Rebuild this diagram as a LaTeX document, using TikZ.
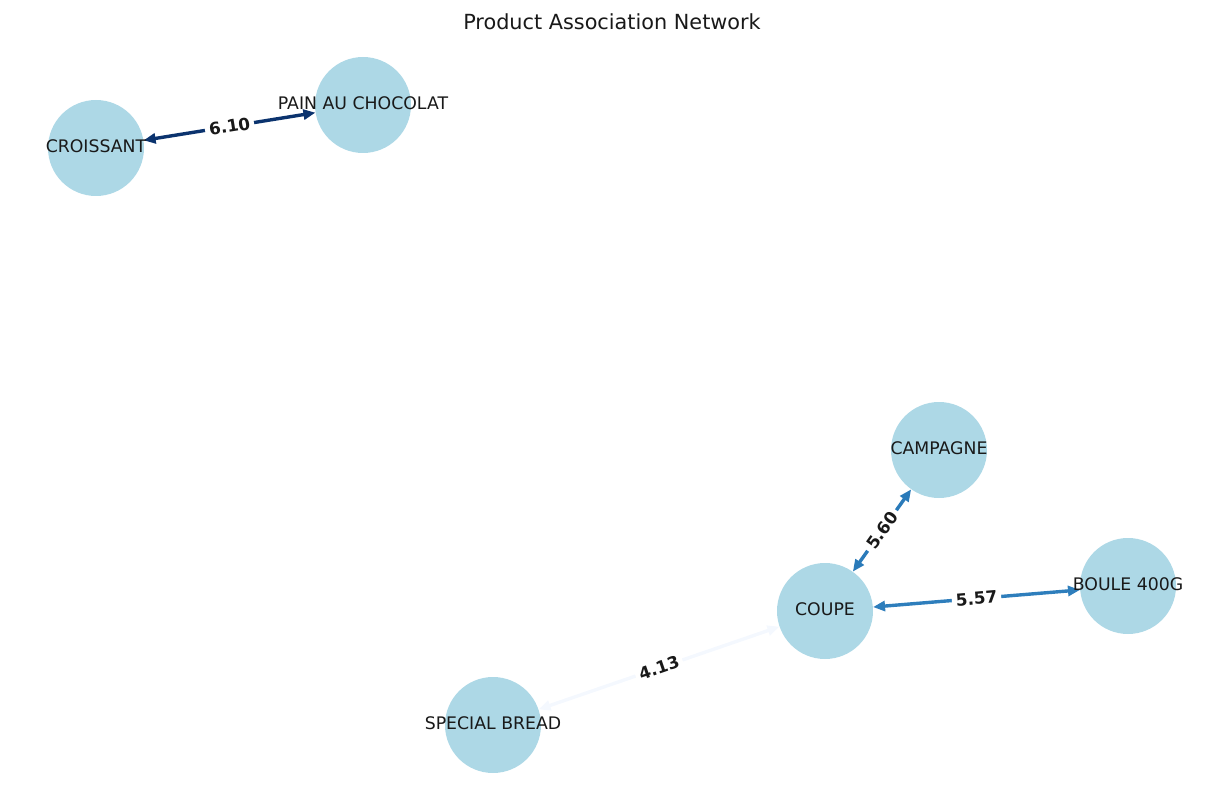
\documentclass[tikz,border=0pt]{standalone}
\usepackage{fontspec}
\setmainfont{DejaVu Sans}
\usetikzlibrary{arrows.meta}
\definecolor{nodeblue}{HTML}{ADD8E6}
\definecolor{edgedark}{HTML}{0B336E}
\definecolor{edgemidA}{HTML}{2A7AB9}
\definecolor{edgemidB}{HTML}{2E7EBC}
\definecolor{edgelight}{HTML}{F4F8FE}
\tikzset{
  prod/.style={circle, fill=nodeblue, minimum size=96pt, inner sep=0pt},
  prodlabel/.style={font=\fontsize{17.3pt}{20pt}\selectfont, text=black!90, inner sep=0pt, yshift=2pt},
  assoc/.style={line width=3.4pt, {Triangle[length=12pt,width=10pt]}-{Triangle[length=12pt,width=10pt]}},
  wlabel/.style={font=\fontsize{16.8pt}{19pt}\selectfont\bfseries, fill=white, inner sep=4pt, sloped, text=black!90},
}
\begin{document}
\begin{tikzpicture}[x=1pt,y=-1pt]
\useasboundingbox (0,0) rectangle (1229,805);
\node[font=\fontsize{20.8pt}{24pt}\selectfont, text=black!90] (title) at (612,22) {Product Association Network};

\node[prod] (cro) at (96,148) {};
\node[prod] (pac) at (363,105) {};
\node[prod] (cam) at (939,450) {};
\node[prod] (cou) at (825,611) {};
\node[prod] (bou) at (1128,586) {};
\node[prod] (spe) at (493,725) {};

\draw[assoc, color=edgedark] (cro) -- node[wlabel] {6.10} (pac);
\draw[assoc, color=edgemidA] (cou) -- node[wlabel] {5.60} (cam);
\draw[assoc, color=edgemidB] (cou) -- node[wlabel] {5.57} (bou);
\draw[assoc, color=edgelight] (spe) -- node[wlabel] {4.13} (cou);

\node[prodlabel] at (cro) {CROISSANT};
\node[prodlabel] at (pac) {PAIN AU CHOCOLAT};
\node[prodlabel] at (cam) {CAMPAGNE};
\node[prodlabel] at (cou) {COUPE};
\node[prodlabel] at (bou) {BOULE 400G};
\node[prodlabel] at (spe) {SPECIAL BREAD};
\end{tikzpicture}
\end{document}
